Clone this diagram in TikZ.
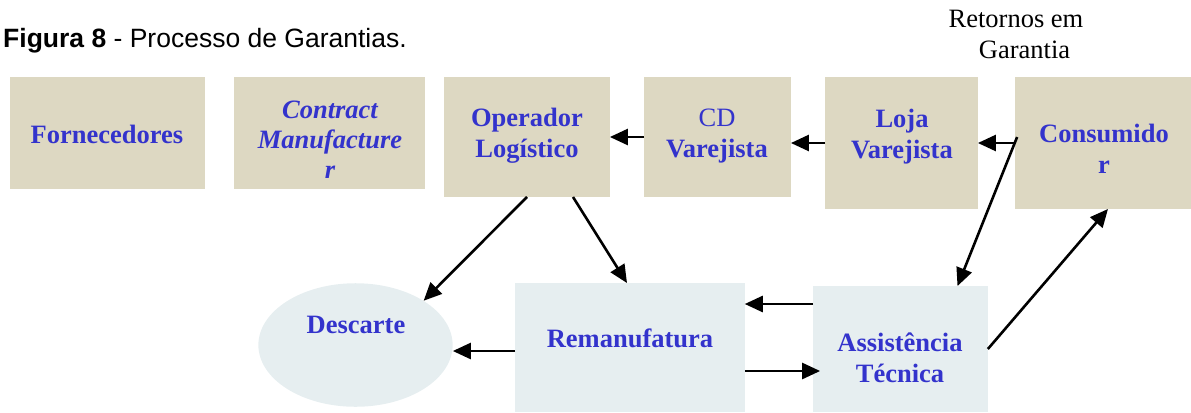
\documentclass[tikz,border=0pt]{standalone}
\usepackage{fontspec}
\setmainfont{Liberation Serif}
\newfontfamily\arialfont{Liberation Sans}
\usetikzlibrary{arrows.meta,calc,shapes.geometric}
\definecolor{boxtan}{RGB}{221,216,194}
\definecolor{boxpale}{RGB}{230,238,240}
\definecolor{ink}{RGB}{51,51,204}

\begin{document}
\begin{tikzpicture}[x=1bp,y=-1bp,
  tanbox/.style={fill=boxtan, draw=none, inner sep=0pt},
  palebox/.style={fill=boxpale, draw=none, inner sep=0pt},
  lbl/.style={text=ink, font=\fontsize{26.6}{30.5}\selectfont\bfseries,
              align=center, anchor=base, inner sep=0pt},
  note/.style={font=\fontsize{26.6}{31}\selectfont, align=center,
               anchor=base, inner sep=0pt},
  flow/.style={line width=2.6bp, -{Triangle[length=18bp,width=16bp]}}
]
\useasboundingbox (0,0) rectangle (1191,412);

% title
\node[anchor=base west, inner sep=0pt, font=\arialfont\fontsize{26.6}{30}\selectfont]
  (title) at (3,47) {\textbf{Figura 8} - Processo de Garantias.};

% upper row of boxes
\node[tanbox, minimum width=195, minimum height=112] (forn) at (107.5,133) {};
\node[tanbox, minimum width=191, minimum height=112] (cm)   at (329.5,133) {};
\node[tanbox, minimum width=166, minimum height=120] (op)   at (527,137) {};
\node[tanbox, minimum width=147, minimum height=120] (cd)   at (717.5,137) {};
\node[tanbox, minimum width=153, minimum height=132] (loja) at (901.5,143) {};
\node[tanbox, minimum width=176, minimum height=132] (cons) at (1103,143) {};

% lower row
\node[ellipse, fill=boxpale, draw=none, inner sep=0pt,
      minimum width=195, minimum height=124] (desc) at (355.5,345) {};
\node[palebox, minimum width=230, minimum height=129] (reman) at (630,347.5) {};
\node[palebox, minimum width=175, minimum height=126] (asst)  at (900.5,349) {};

% labels (base anchor = baseline of the last line)
\node[lbl] (tforn) at (107,143) {Fornecedores};
\node[lbl, font=\fontsize{26.6}{30}\selectfont\bfseries\itshape] (tcm) at (330,178)
  {Contract\\Manufacture\\r};
\node[lbl] (top)   at (527,157) {Operador\\Logístico};
\node[lbl] (tcd)   at (717,157) {{\mdseries CD}\\Varejista};
\node[lbl] (tloja) at (902,158) {Loja\\Varejista};
\node[lbl] (tcons) at (1104,173) {Consumido\\r};
\node[lbl] (tdesc) at (356,333) {Descarte};
\node[lbl] (treman) at (630,347) {Remanufatura};
\node[lbl] (tasst) at (900,382) {Assistência\\Técnica};
\node[note] (tret) at (1016,58) {Retornos em\\\hspace*{17bp}Garantia};

% connectors
\draw[flow] (cd.west) -- (op.east);
\draw[flow] (loja.west) -- (cd.east |- loja.west);
\draw[flow] (cons.west) -- (loja.east);
\draw[flow] ($(cons.west)+(2,-6)$) -- ($(asst.north)+(57,0)$);
\draw[flow] (asst.east) -- ($(cons.south)+(5,0)$);
\draw[flow] (op.south) -- (desc.33);
\draw[flow] ($(op.south)+(46,0)$) -- ($(reman.north)+(-3,0)$);
\coordinate (a2r) at ($(asst.west)+(0,-45)$);
\draw[flow] (a2r) -- (reman.east |- a2r);
\coordinate (r2a) at ($(reman.east)+(0,23.5)$);
\draw[flow] (r2a) -- ($(asst.west |- r2a)+(7,0)$);
\coordinate (r2d) at ($(reman.west)+(0,3.5)$);
\draw[flow] (r2d) -- (desc.east |- r2d);
\end{tikzpicture}
\end{document}
